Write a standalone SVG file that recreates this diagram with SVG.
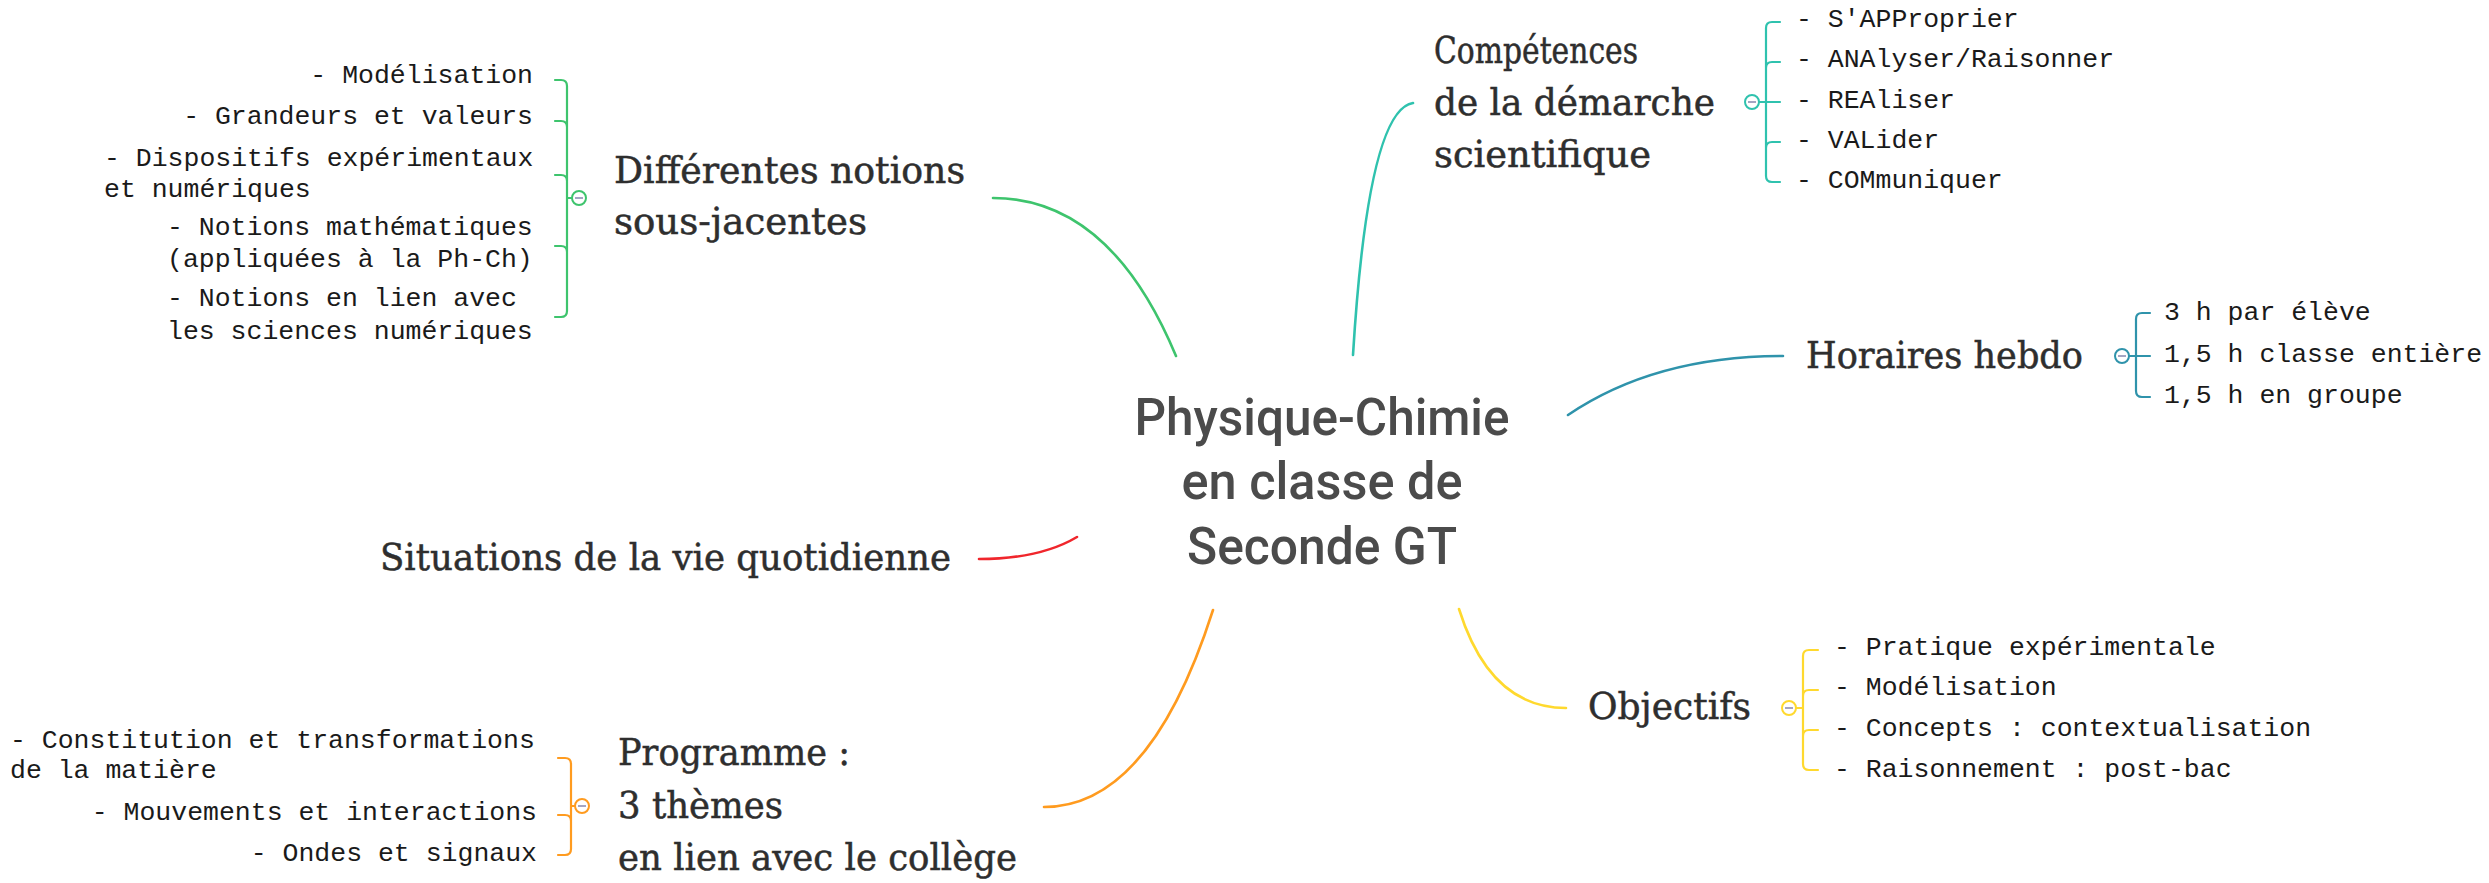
<svg xmlns="http://www.w3.org/2000/svg" width="2489" height="883" viewBox="0 0 2489 883">
<style>
.bg{fill:#ffffff}
.conn{fill:none;stroke-width:2.6;stroke-linecap:round}
.brace{fill:none;stroke-width:2.2;stroke-linecap:round;stroke-linejoin:round}
.tog{fill:#ffffff;stroke-width:2}
.minus{stroke:#8d8fb3;stroke-width:1.6}
.central{font-family:Roboto,"Liberation Sans",sans-serif;font-weight:500;font-size:52px;fill:#4b4b4b;text-anchor:middle}
.title{font-family:"DejaVu Serif","Liberation Serif",serif;font-size:37px;fill:#2e2e2e;stroke:#2e2e2e;stroke-width:0.5}
.item{font-family:"Liberation Mono","Courier New",monospace;font-size:26.5px;fill:#1a1a1a;white-space:pre}
.end{text-anchor:end}
.green{stroke:#3ec46d}
.teal{stroke:#2fc2ae}
.blue{stroke:#2f93ab}
.red{stroke:#f0262c}
.orange{stroke:#ff9b1f}
.yellow{stroke:#ffd92e}
</style>
<rect class="bg" x="0" y="0" width="2489" height="883"/>

<g id="connectors">
<path class="conn green" d="M1176,356 Q1110,198 993,198"/>
<path class="conn teal" d="M1353,355 Q1368,110 1413,103"/>
<path class="conn blue" d="M1568,415 Q1655,356 1783,356"/>
<path class="conn red" d="M1077,537 Q1040,559 979,559"/>
<path class="conn orange" d="M1213,610 Q1150,807 1044,807"/>
<path class="conn yellow" d="M1459,609 Q1490,708 1566,708"/>
</g>

<g id="central">
<text class="central" x="1322" y="435" textLength="375" lengthAdjust="spacingAndGlyphs">Physique-Chimie</text>
<text class="central" x="1322" y="499" textLength="281" lengthAdjust="spacingAndGlyphs">en classe de</text>
<text class="central" x="1322" y="564" textLength="270" lengthAdjust="spacingAndGlyphs">Seconde GT</text>
</g>

<g id="competences">
<text class="title" x="1434" y="63" textLength="204" lengthAdjust="spacingAndGlyphs">Compétences</text>
<text class="title" x="1434" y="115" textLength="281" lengthAdjust="spacingAndGlyphs">de la démarche</text>
<text class="title" x="1434" y="167" textLength="217" lengthAdjust="spacingAndGlyphs">scientifique</text>
<path class="brace teal" d="M1780,22 L1772,22 Q1766,22 1766,28 L1766,176 Q1766,182 1772,182 L1780,182 M1766,68 Q1766,62 1772,62 L1780,62 M1766,148 Q1766,142 1772,142 L1780,142 M1759,102 L1780,102"/>
<circle class="tog teal" cx="1752" cy="102" r="7"/>
<line class="minus" x1="1748" y1="102" x2="1756" y2="102"/>
<text class="item" x="1796" y="27">- S'APProprier</text>
<text class="item" x="1796" y="67">- ANAlyser/Raisonner</text>
<text class="item" x="1796" y="108">- REAliser</text>
<text class="item" x="1796" y="148">- VALider</text>
<text class="item" x="1796" y="188">- COMmuniquer</text>
</g>

<g id="horaires">
<text class="title" x="1806" y="368" textLength="277" lengthAdjust="spacingAndGlyphs">Horaires hebdo</text>
<path class="brace blue" d="M2150,313 L2142,313 Q2136,313 2136,319 L2136,391 Q2136,397 2142,397 L2150,397 M2129,356 L2150,356"/>
<circle class="tog blue" cx="2122" cy="356" r="7"/>
<line class="minus" x1="2118" y1="356" x2="2126" y2="356"/>
<text class="item" x="2164" y="320">3 h par élève</text>
<text class="item" x="2164" y="362">1,5 h classe entière</text>
<text class="item" x="2164" y="403">1,5 h en groupe</text>
</g>

<g id="objectifs">
<text class="title" x="1588" y="719" textLength="163" lengthAdjust="spacingAndGlyphs">Objectifs</text>
<path class="brace yellow" d="M1818,650 L1809,650 Q1803,650 1803,656 L1803,764 Q1803,770 1809,770 L1818,770 M1803,696 Q1803,690 1809,690 L1818,690 M1803,736 Q1803,730 1809,730 L1818,730 M1796,708 L1803,708"/>
<circle class="tog yellow" cx="1789" cy="708" r="7"/>
<line class="minus" x1="1785" y1="708" x2="1793" y2="708"/>
<text class="item" x="1834" y="655">- Pratique expérimentale</text>
<text class="item" x="1834" y="695">- Modélisation</text>
<text class="item" x="1834" y="736">- Concepts : contextualisation</text>
<text class="item" x="1834" y="777">- Raisonnement : post-bac</text>
</g>

<g id="differentes">
<text class="title" x="614" y="183" textLength="351" lengthAdjust="spacingAndGlyphs">Différentes notions</text>
<text class="title" x="614" y="234" textLength="253" lengthAdjust="spacingAndGlyphs">sous-jacentes</text>
<path class="brace green" d="M555,80 L561,80 Q567,80 567,86 L567,311 Q567,317 561,317 L555,317 M567,127 Q567,121 561,121 L555,121 M567,181 Q567,175 561,175 L555,175 M567,252 Q567,246 561,246 L555,246 M567,198 L572,198"/>
<circle class="tog green" cx="579" cy="198" r="7"/>
<line class="minus" x1="575" y1="198" x2="583" y2="198"/>
<text class="item end" x="533" y="83">- Modélisation</text>
<text class="item end" x="533" y="124">- Grandeurs et valeurs</text>
<text class="item" x="104" y="166">- Dispositifs expérimentaux</text>
<text class="item" x="104" y="197">et numériques</text>
<text class="item" x="167" y="235">- Notions mathématiques</text>
<text class="item" x="167" y="267">(appliquées à la Ph-Ch)</text>
<text class="item" x="167" y="306">- Notions en lien avec</text>
<text class="item" x="167" y="339">les sciences numériques</text>
</g>

<g id="situations">
<text class="title" x="380" y="570" textLength="571" lengthAdjust="spacingAndGlyphs">Situations de la vie quotidienne</text>
</g>

<g id="programme">
<text class="title" x="618" y="765" textLength="232" lengthAdjust="spacingAndGlyphs">Programme :</text>
<text class="title" x="618" y="818" textLength="165" lengthAdjust="spacingAndGlyphs">3 thèmes</text>
<text class="title" x="618" y="870" textLength="399" lengthAdjust="spacingAndGlyphs">en lien avec le collège</text>
<path class="brace orange" d="M558,758 L565,758 Q571,758 571,764 L571,849 Q571,855 565,855 L558,855 M571,821 Q571,815 565,815 L558,815 M571,806 L575,806"/>
<circle class="tog orange" cx="582" cy="806" r="7"/>
<line class="minus" x1="578" y1="806" x2="586" y2="806"/>
<text class="item" x="10" y="748">- Constitution et transformations</text>
<text class="item" x="10" y="778">de la matière</text>
<text class="item end" x="537" y="820">- Mouvements et interactions</text>
<text class="item end" x="537" y="861">- Ondes et signaux</text>
</g>
</svg>
